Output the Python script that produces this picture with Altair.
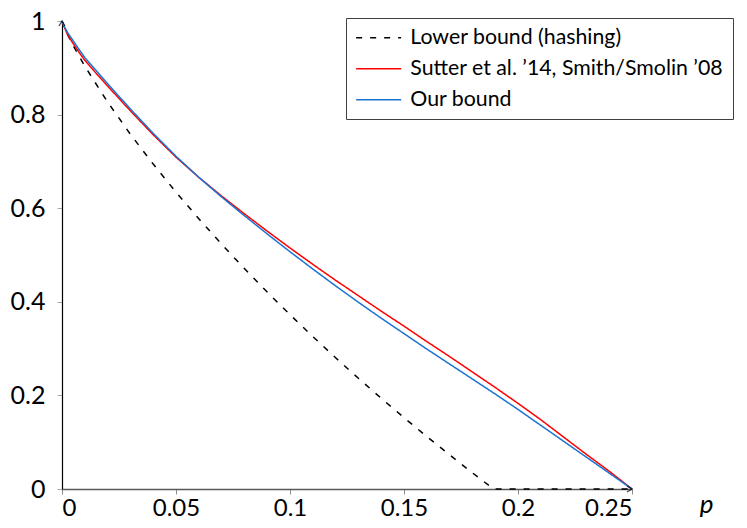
import altair as alt
import pandas as pd

SERIES = ["Lower bound (hashing)", "Sutter et al. \u201914, Smith/Smolin \u201908", "Our bound"]
COLORS = ["#000000", "#ff0000", "#1a73d0"]

P_HASH = [0, 0.001, 0.0025, 0.005, 0.01, 0.02, 0.03, 0.04, 0.05, 0.06, 0.07, 0.08, 0.09,
          0.10, 0.11, 0.12, 0.13, 0.14, 0.15, 0.16, 0.17, 0.18, 0.1893, 0.25]
V_HASH = [1.0, 0.987, 0.9708, 0.9467, 0.9034, 0.8269, 0.7580, 0.6943, 0.6343, 0.5775, 0.5231,
          0.4710, 0.4208, 0.3725, 0.3258, 0.2805, 0.2365, 0.1939, 0.1524, 0.1121, 0.0729,
          0.0346, 0.0, 0.0]

P_BOUND = [0, 0.001, 0.0025, 0.005, 0.0075, 0.01, 0.015, 0.02, 0.03, 0.04, 0.05, 0.06, 0.07,
           0.08, 0.09, 0.10, 0.11, 0.12, 0.13, 0.14, 0.15, 0.16, 0.17, 0.18, 0.19, 0.20,
           0.21, 0.22, 0.23, 0.24, 0.25]
V_SUTTER = [1.0, 0.987, 0.970, 0.951, 0.933, 0.916, 0.888, 0.861, 0.808, 0.757, 0.709, 0.666,
            0.626, 0.588, 0.551, 0.515, 0.480, 0.446, 0.413, 0.380, 0.348, 0.315, 0.283,
            0.250, 0.217, 0.183, 0.148, 0.111, 0.074, 0.038, 0.0]
V_OURS = [1.0, 0.988, 0.975, 0.957, 0.939, 0.922, 0.894, 0.866, 0.812, 0.760, 0.711, 0.666,
          0.624, 0.584, 0.545, 0.507, 0.470, 0.434, 0.399, 0.365, 0.332, 0.299, 0.267,
          0.235, 0.203, 0.170, 0.136, 0.102, 0.068, 0.034, 0.0]

X_TICKS = [0, 0.05, 0.1, 0.15, 0.2, 0.25]
Y_TICKS = [0, 0.2, 0.4, 0.6, 0.8, 1]

rows = []
for i, (p, v) in enumerate(zip(P_HASH, V_HASH)):
    rows.append({"series": SERIES[0], "p": p, "v": v, "idx": i})
for i, (p, v) in enumerate(zip(P_BOUND, V_SUTTER)):
    rows.append({"series": SERIES[1], "p": p, "v": v, "idx": i})
for i, (p, v) in enumerate(zip(P_BOUND, V_OURS)):
    rows.append({"series": SERIES[2], "p": p, "v": v, "idx": i})
df = pd.DataFrame(rows)

FONT = "Lato"

xscale = alt.Scale(domain=[0, 0.25], nice=False, zero=False)
yscale = alt.Scale(domain=[0, 1], nice=False)

xaxis = alt.Axis(
    values=X_TICKS, format="~g", grid=False,
    labelFont=FONT, labelFontSize=24, labelColor="black", labelPadding=2,
    tickColor="#8c8c8c", tickSize=5, domainColor="#595959", domainWidth=1.5,
    title="p", titleFont=FONT, titleFontSize=26, titleFontStyle="italic",
    titleFontWeight="normal", titleColor="black", titleX=644, titleY=15,
    titleBaseline="middle", titleAlign="center")
yaxis = alt.Axis(
    values=Y_TICKS, format="~g", grid=False, title=None,
    labelFont=FONT, labelFontSize=25, labelColor="black", labelPadding=12,
    tickColor="#a6a6a6", tickSize=5, domainColor="black", domainWidth=1.2)

legend = alt.Legend(
    title=None, orient="none", legendX=284, legendY=-3,
    strokeColor="#404040", fillColor="white", padding=9,
    labelFont=FONT, labelFontSize=21.3, labelColor="black",
    symbolOffset=13, labelOffset=21,
    symbolType="M-2.5,0L2.5,0", symbolSize=324, symbolStrokeWidth=1.5,
    rowPadding=9, labelLimit=500,
)

base = alt.Chart(df).mark_line(strokeWidth=1.5).encode(
    x=alt.X("p:Q", scale=xscale, axis=xaxis),
    y=alt.Y("v:Q", scale=yscale, axis=yaxis),
    color=alt.Color("series:N", scale=alt.Scale(domain=SERIES, range=COLORS), legend=legend),
    strokeDash=alt.StrokeDash("series:N", scale=alt.Scale(domain=SERIES, range=[[6, 8], [1, 0], [1, 0]]), legend=legend),
    order="idx:Q",
)

layers = [base.transform_filter(alt.datum.series == s) for s in SERIES]

arrow_up = alt.Chart(pd.DataFrame({"p": [0], "v": [1]})).mark_point(
    shape="M-0.6,1L0,0L0.6,1", size=100, filled=False, stroke="black", strokeWidth=1.3
).encode(x=alt.X("p:Q", scale=xscale, axis=xaxis), y=alt.Y("v:Q", scale=yscale, axis=yaxis))
arrow_right = alt.Chart(pd.DataFrame({"p": [0.25], "v": [0]})).mark_point(
    shape="M-1,-0.6L0,0L-1,0.6", size=100, filled=False, stroke="black", strokeWidth=1.3
).encode(x=alt.X("p:Q", scale=xscale, axis=xaxis), y=alt.Y("v:Q", scale=yscale, axis=yaxis))

chart = alt.layer(*layers, arrow_up, arrow_right).properties(
    width=570, height=468,
    background="white",
    autosize=alt.AutoSizeParams(type="none"),
    padding={"left": 54, "top": 13, "right": 104, "bottom": 32},
).configure_view(stroke=None, strokeWidth=0).configure_axis(grid=False)

chart.save("out.html", embed_options={"renderer": "svg", "actions": False})
